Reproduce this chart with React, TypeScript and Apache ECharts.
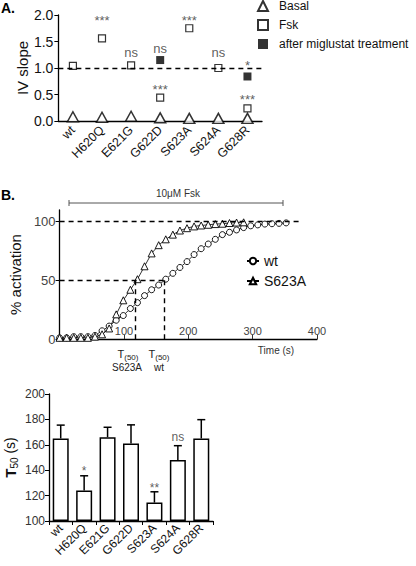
import React, { useEffect, useRef } from "react";
import * as echarts from "echarts";

// ---------- Panel A: IV slope ----------
const mutants = ["wt", "H620Q", "E621G", "G622D", "S623A", "S624A", "G628R"];
const basal = [0.08, 0.07, 0.09, 0.06, 0.05, 0.05, 0.05];
const fsk = [1.04, 1.56, 1.05, 0.44, 1.75, 1.0, 0.24];
const miglustat = [null, null, null, 1.15, null, null, 0.84];
const sigALabels = ["***", "ns", "ns", "***", "***", "ns", "*", "***"];
const sigACats = ["H620Q", "E621G", "G622D", "G622D", "S623A", "S624A", "G628R", "G628R"];
const sigAY = [1.9, 1.3, 1.37, 0.6, 1.9, 1.3, 1.04, 0.4];

// ---------- Panel B: % activation vs time ----------
const timeS = [0, 11, 22, 33, 44, 55, 66, 77, 88, 99, 110, 121, 132, 143, 154, 165, 176, 187, 198, 209, 220, 231, 242, 253, 264, 275, 286, 297, 308, 319, 330, 341, 352];
const wtAct = [1, 1, 2, 2, 2, 3, 7, 11, 16, 20, 26, 31, 37, 42, 46, 51, 56, 61, 66, 72, 77, 81, 85, 89, 91, 93, 95, 96.5, 97.3, 98, 98.3, 98.6, 99];
const s623aAct = [1, 1, 1, 1, 1, 2, 4, 9, 21, 33, 42, 51, 62, 73, 80, 85, 89, 92.5, 94.5, 96, 96.8, 97.4, 98, 98.3, 98.9, 99.3, 99.5];
const t50S623A = 118;
const t50Wt = 163;
const plateauEnd = 375;

// ---------- Panel C: T50 ----------
const t50Mean = [165, 124, 166, 161, 114.5, 148, 165];
const t50Sem = [10.5, 11.6, 7.8, 14.7, 8.5, 11.3, 14.8];
const sigCCats = ["H620Q", "S623A", "S624A"];
const sigCLabels = ["*", "**", "ns"];
const sigCY = [139, 126, 166];

const FONT = "'Liberation Sans', Arial, sans-serif";

export default function App() {
  const ref = useRef<HTMLDivElement>(null);
  useEffect(() => {
    if (!ref.current) return;
    const chart = echarts.init(ref.current, undefined, { renderer: "svg" });
    const black = "#000";
    const axisLine = { show: true, lineStyle: { color: black, width: 1.3 } };
    const dashed = { type: [5, 4] as any, color: black, width: 1.4 };
    const sub = { t: { fontSize: 11, fontFamily: FONT, fill: "#222" }, s: { fontSize: 8, fontFamily: FONT, fill: "#222", padding: [6, 0, 0, 0] } };

    const option: any = {
      animation: false,
      backgroundColor: "#fff",
      textStyle: { fontFamily: FONT },
      grid: [
        { left: 44, top: 15, width: 218, height: 106 },
        { left: 47, top: 210, width: 270, height: 129 },
        { left: 49, top: 394, width: 164, height: 127 },
      ],
      xAxis: [
        {
          gridIndex: 0, type: "category", data: mutants, axisLine,
          axisTick: { alignWithLabel: true, length: 4, lineStyle: { color: black } },
          axisLabel: { rotate: 45, fontSize: 12.5, color: "#111", margin: 7, interval: 0, fontFamily: FONT },
        },
        {
          gridIndex: 1, type: "value", min: 0, max: 400, interval: 100, axisLine,
          splitLine: { show: false },
          axisTick: { inside: true, length: 4, lineStyle: { color: "#333" } },
          axisLabel: { inside: true, fontSize: 11, color: "#444", margin: 3, fontFamily: FONT,
            formatter: (v: number) => (v === 0 ? "" : String(v)) },
        },
        {
          gridIndex: 2, type: "category", data: mutants, axisLine,
          axisTick: { show: true, length: 4, lineStyle: { color: black } },
          axisLabel: { rotate: 45, fontSize: 12, color: "#111", margin: 5, interval: 0, fontFamily: FONT },
        },
      ],
      yAxis: [
        {
          gridIndex: 0, type: "value", min: 0, max: 2, interval: 0.5, axisLine,
          splitLine: { show: false },
          axisTick: { show: true, length: 4, lineStyle: { color: black } },
          axisLabel: { fontSize: 14, color: "#111", margin: 5, fontFamily: FONT, formatter: (v: number) => v.toFixed(1) },
          name: "IV slope", nameLocation: "middle", nameGap: 26,
          nameTextStyle: { fontSize: 15, color: "#111", fontFamily: FONT },
        },
        {
          gridIndex: 1, type: "value", min: 0, max: 110, interval: 50, axisLine,
          splitLine: { show: false },
          axisTick: { show: true, length: 4, customValues: [0, 50, 100], lineStyle: { color: black } },
          axisLabel: { fontSize: 13, color: "#444", margin: 4, fontFamily: FONT, customValues: [0, 50, 100],
            formatter: (v: number) => (v % 50 === 0 ? String(v) : "") },
          name: "% activation", nameLocation: "middle", nameGap: 28,
          nameTextStyle: { fontSize: 15, color: "#111", fontFamily: FONT },
        },
        {
          gridIndex: 2, type: "value", min: 100, max: 200, interval: 20, startValue: 100, axisLine,
          splitLine: { show: false },
          axisTick: { show: true, length: 4, lineStyle: { color: black } },
          axisLabel: { fontSize: 12, color: "#333", margin: 4, fontFamily: FONT },
          name: "{t|T}{s|50}{n| (s)}", nameLocation: "middle", nameGap: 30,
          nameTextStyle: {
            fontFamily: FONT, color: "#111",
            rich: {
              t: { fontSize: 15, fontWeight: "bold", fontFamily: FONT, color: "#111" },
              s: { fontSize: 10, fontFamily: FONT, color: "#111", padding: [8, 0, 0, 0] },
              n: { fontSize: 14, fontFamily: FONT, color: "#111" },
            },
          },
        },
      ],
      legend: [
        {
          data: ["Basal", "Fsk", "after miglustat treatment"],
          orient: "vertical", left: 257, top: 0, padding: 0, itemWidth: 10, itemHeight: 10, itemGap: 7,
          textStyle: { fontSize: 12, color: "#111", fontFamily: FONT, padding: [0, 0, 0, 6] },
        },
        {
          data: ["wt", "S623A"],
          orient: "vertical", left: 246, top: 254, padding: 0, itemWidth: 12, itemHeight: 8, itemGap: 6,
          textStyle: { fontSize: 14, color: "#111", fontFamily: FONT },
        },
      ],
      series: [
        {
          name: "Basal", type: "scatter", xAxisIndex: 0, yAxisIndex: 0, data: basal,
          symbol: "triangle", symbolSize: [11, 10],
          itemStyle: { color: "#fff", borderColor: black, borderWidth: 1.5 }, z: 3,
        },
        {
          name: "Fsk", type: "scatter", xAxisIndex: 0, yAxisIndex: 0, data: fsk,
          symbol: "rect", symbolSize: 7,
          itemStyle: { color: "#fff", borderColor: black, borderWidth: 1.2 }, z: 3,
          markLine: {
            silent: true, symbol: ["none", "none"], label: { show: false },
            lineStyle: dashed, data: [{ yAxis: 1 }],
          },
        },
        {
          name: "after miglustat treatment", type: "scatter", xAxisIndex: 0, yAxisIndex: 0, data: miglustat,
          symbol: "rect", symbolSize: 8, itemStyle: { color: black }, z: 3,
        },
        {
          name: "sigA", type: "scatter", xAxisIndex: 0, yAxisIndex: 0, symbolSize: 0,
          data: sigACats.map((c, i) => ({ name: sigALabels[i], value: [c, sigAY[i]] })),
          label: { show: true, position: "inside", formatter: "{b}", fontSize: 13, color: "#333", fontFamily: FONT },
        },
        {
          name: "wt", type: "line", xAxisIndex: 1, yAxisIndex: 1,
          data: timeS.map((t, i) => [t, wtAct[i]]),
          symbol: "circle", symbolSize: 6, showSymbol: true,
          lineStyle: { color: black, width: 0.8 },
          itemStyle: { color: "#fff", borderColor: black, borderWidth: 0.9 },
          markLine: {
            silent: true, symbol: ["none", "none"], label: { show: false }, lineStyle: dashed,
            data: [
              [{ coord: [0, 100] }, { coord: [plateauEnd, 100] }],
              [{ coord: [0, 50] }, { coord: [t50Wt, 50] }],
              [{ coord: [t50Wt, 50] }, { coord: [t50Wt, 0] }],
              [{ coord: [t50S623A, 50] }, { coord: [t50S623A, 0] }],
            ],
          },
        },
        {
          name: "S623A", type: "line", xAxisIndex: 1, yAxisIndex: 1,
          data: timeS.slice(0, s623aAct.length).map((t, i) => [t, s623aAct[i]]),
          symbol: "triangle", symbolSize: 7, showSymbol: true,
          lineStyle: { color: black, width: 0.8 },
          itemStyle: { color: "#fff", borderColor: black, borderWidth: 0.9 },
        },
        {
          name: "T50", type: "bar", xAxisIndex: 2, yAxisIndex: 2, data: t50Mean, barWidth: 16,
          itemStyle: { color: "#fff", borderColor: black, borderWidth: 1.5 },
        },
        {
          name: "sem", type: "custom", xAxisIndex: 2, yAxisIndex: 2,
          data: mutants.map((_, i) => [i, t50Mean[i], t50Sem[i]]),
          encode: { x: 0, y: 1 },
          renderItem: (params: any, api: any) => {
            const x = api.value(0);
            const m = api.value(1);
            const e = api.value(2);
            const p0 = api.coord([x, m]);
            const p1 = api.coord([x, m + e]);
            const st = { stroke: black, lineWidth: 1.5 };
            return {
              type: "group",
              children: [
                { type: "line", shape: { x1: p0[0], y1: p0[1], x2: p1[0], y2: p1[1] }, style: st },
                { type: "line", shape: { x1: p1[0] - 4, y1: p1[1], x2: p1[0] + 4, y2: p1[1] }, style: st },
              ],
            };
          },
          z: 3,
        },
        {
          name: "sigC", type: "scatter", xAxisIndex: 2, yAxisIndex: 2, symbolSize: 0,
          data: sigCCats.map((c, i) => ({ name: sigCLabels[i], value: [c, sigCY[i]] })),
          label: { show: true, position: "inside", formatter: "{b}", fontSize: 12, color: "#333", fontFamily: FONT },
        },
      ],
      graphic: [
        { type: "text", left: 1, top: 1, style: { text: "A.", font: `bold 14px ${FONT}`, fill: "#000" } },
        { type: "text", left: 1, top: 188, style: { text: "B.", font: `bold 14px ${FONT}`, fill: "#000" } },
        { type: "line", shape: { x1: 69, y1: 203, x2: 283, y2: 203 }, style: { stroke: "#555", lineWidth: 1 } },
        { type: "line", shape: { x1: 69, y1: 200, x2: 69, y2: 206 }, style: { stroke: "#555", lineWidth: 1 } },
        { type: "line", shape: { x1: 283, y1: 200, x2: 283, y2: 206 }, style: { stroke: "#555", lineWidth: 1 } },
        { type: "text", x: 178, y: 193, style: { text: "10μM Fsk", font: `10px ${FONT}`, fill: "#333", align: "center", verticalAlign: "middle" } },
        { type: "text", x: 276, y: 350, style: { text: "Time (s)", font: `10px ${FONT}`, fill: "#333", align: "center", verticalAlign: "middle" } },
        { type: "text", x: 128, y: 354, style: { text: "{t|T}{s|(50)}", align: "center", verticalAlign: "middle", rich: sub } },
        { type: "text", x: 159, y: 354, style: { text: "{t|T}{s|(50)}", align: "center", verticalAlign: "middle", rich: sub } },
        { type: "text", x: 127, y: 367, style: { text: "S623A", font: `10px ${FONT}`, fill: "#222", align: "center", verticalAlign: "middle" } },
        { type: "text", x: 159, y: 367, style: { text: "wt", font: `10px ${FONT}`, fill: "#222", align: "center", verticalAlign: "middle" } },
      ],
    };
    chart.setOption(option);
    return () => chart.dispose();
  }, []);
  return <div ref={ref} style={{ position: "fixed", left: 0, top: 0, width: 416, height: 566 }} />;
}
